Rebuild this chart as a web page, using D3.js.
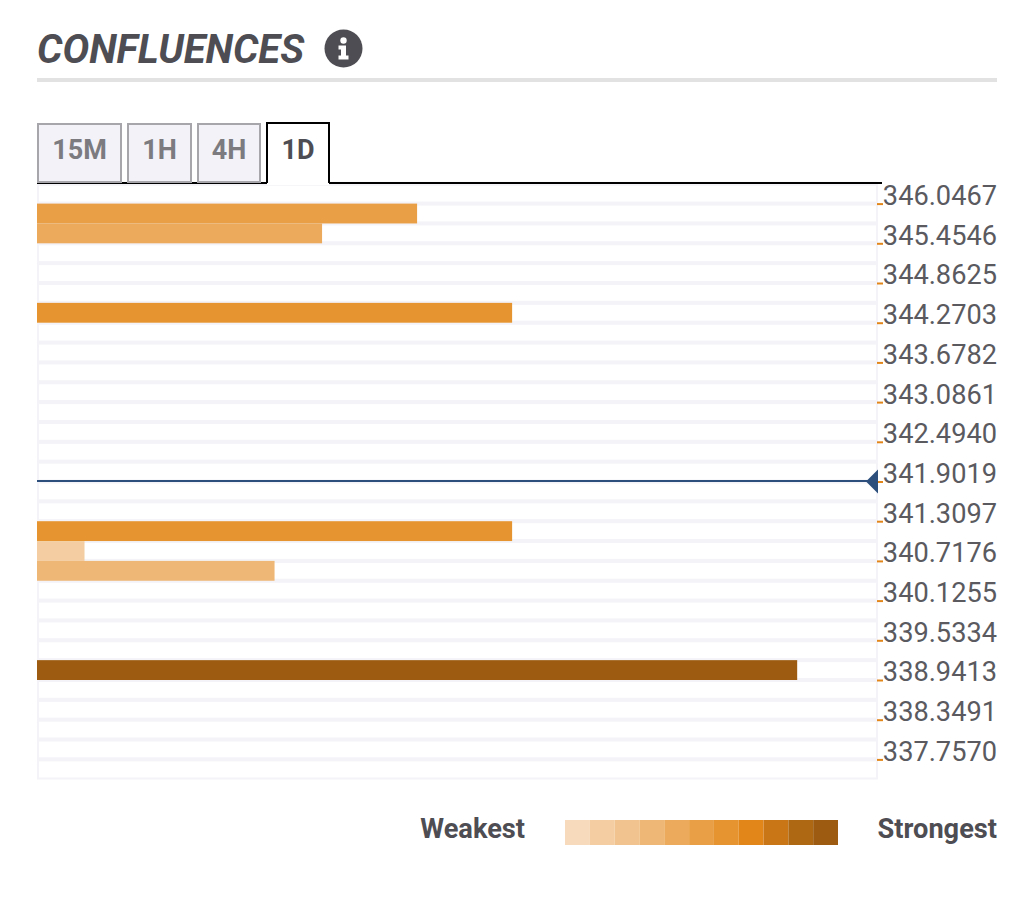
<!DOCTYPE html>
<html>
<head>
<meta charset="utf-8">
<script src="https://cdn.jsdelivr.net/npm/d3@7"></script>
<style>
html,body{margin:0;padding:0;background:#fff;}
svg{display:block;font-family:Roboto,sans-serif;}
</style>
</head>
<body>
<svg id="chart" width="1024" height="913"></svg>
<script>
// tick labels of the price axis
var priceTicks = [346.0467,345.4546,344.8625,344.2703,343.6782,343.0861,342.4940,341.9019,341.3097,340.7176,340.1255,339.5334,338.9413,338.3491,337.7570];
// price at the top edge of each confluence bar
var barLevels = [346.0467,345.7506,344.5664,341.3097,341.0136,340.7176,339.2373];
var barStrength = [8,6,10,10,1,5,16];
var barShade = [5,4,6,6,1,3,10];
var currentPrice = 341.9019;
var rowStep = 0.29605;

var legendColors = ["#f7dabb","#f4cea2","#f1c38e","#efb775","#ecaa5d","#e99f46","#e69430","#e3861a","#c87616","#ae6813","#9c5b10"];
var tabNames = ["15M","1H","4H","1D"];
var tabLeft = [37,127,197,267];
var tabRight = [122,192,261,329];

var svg = d3.select("#chart");

var y = d3.scaleLinear()
    .domain([337.7570,346.0467])
    .range([759.4,203.6]);
var x = d3.scaleLinear()
    .domain([0,17.68])
    .range([37,877]);

// title
svg.append("text")
    .attr("x",37)
    .attr("y",63)
    .attr("font-size",40)
    .attr("font-weight",700)
    .attr("font-style","italic")
    .attr("fill","#4d4d53")
    .text("CONFLUENCES");

var info = svg.append("g").attr("transform","translate(343.5,48.5)");
info.append("circle").attr("r",19).attr("fill","#4d4d53");
info.append("circle").attr("cy",-8).attr("r",3.2).attr("fill","#fff");
info.append("path")
    .attr("d","M-5,-3H2.5V7H5V11H-5V7H-2.5V1H-5Z")
    .attr("fill","#fff");

svg.append("rect")
    .attr("x",37).attr("y",78)
    .attr("width",960).attr("height",4)
    .attr("fill","#e2e2e2");

// plot background: row stripes and frame
var rowPrices = d3.range(0,30).map(function(i){ return 346.0467-(i-1)*rowStep; });
svg.selectAll(".row")
    .data(rowPrices)
    .enter().append("rect")
    .attr("class","row")
    .attr("x",37)
    .attr("y",function(d){ return y(d)-2; })
    .attr("width",840)
    .attr("height",4)
    .attr("fill","#f3f3f8");
svg.append("rect")
    .attr("x",38).attr("y",183)
    .attr("width",839).attr("height",595.5)
    .attr("fill","none")
    .attr("stroke","#f3f3f8")
    .attr("stroke-width",2);

// bars
var colorOf = d3.scaleOrdinal().domain(d3.range(0,11)).range(legendColors);
svg.selectAll(".bar")
    .data(barLevels)
    .enter().append("rect")
    .attr("class","bar")
    .attr("x",x(0))
    .attr("y",function(d){ return y(d); })
    .attr("width",function(d,i){ return x(barStrength[i])-x(0); })
    .attr("height",function(d){ return y(d-rowStep)-y(d); })
    .attr("fill",function(d,i){ return colorOf(barShade[i]); });

// price axis
var axis = d3.axisRight(y)
    .tickValues(priceTicks)
    .tickSize(6)
    .tickFormat(d3.format(".4f"));
var axisG = svg.append("g")
    .attr("transform","translate(877,0)")
    .call(axis);
axisG.select(".domain").remove();
axisG.selectAll(".tick line")
    .attr("stroke","#e3861a")
    .attr("stroke-width",2);
axisG.selectAll(".tick text")
    .attr("x",120)
    .attr("dy",1)
    .attr("text-anchor","end")
    .attr("font-family","Roboto,sans-serif")
    .attr("font-size",27.2)
    .attr("fill","#5a5a5f");

// current price marker
svg.append("line")
    .attr("x1",37).attr("x2",870)
    .attr("y1",481).attr("y2",481)
    .attr("stroke","#2c4f7c")
    .attr("stroke-width",2);
svg.append("path")
    .attr("d",d3.line()([[866,y(currentPrice)],[878,y(currentPrice)-12],[878,y(currentPrice)+12]])+"Z")
    .attr("fill","#2c4f7c");

// tabs
svg.append("line")
    .attr("x1",37).attr("x2",882)
    .attr("y1",183).attr("y2",183)
    .attr("stroke","#000")
    .attr("stroke-width",2);
tabNames.forEach(function(name,i)
{
    var active = i==3;
    var l = tabLeft[i], r = tabRight[i];
    if(active)
    {
        svg.append("rect")
            .attr("x",l).attr("y",123)
            .attr("width",r-l).attr("height",62)
            .attr("fill","#fff");
        svg.append("path")
            .attr("d","M"+l+",183V123H"+r+"V183")
            .attr("fill","none")
            .attr("stroke","#000")
            .attr("stroke-width",2);
    }
    else
    {
        svg.append("rect")
            .attr("x",l+1).attr("y",124)
            .attr("width",r-l-2).attr("height",58)
            .attr("fill","#f2f2f8")
            .attr("stroke","#a6a6ab")
            .attr("stroke-width",2);
    }
    svg.append("text")
        .attr("x",(l+r)/2)
        .attr("y",159)
        .attr("text-anchor","middle")
        .attr("font-size",27)
        .attr("font-weight",700)
        .attr("fill",active ? "#4d4d53" : "#7b7b80")
        .text(name);
});

// legend
var legendX = d3.scaleBand()
    .domain(d3.range(0,11))
    .range([565,838]);
svg.selectAll(".swatch")
    .data(legendColors)
    .enter().append("rect")
    .attr("class","swatch")
    .attr("x",function(d,i){ return legendX(i); })
    .attr("y",820)
    .attr("width",legendX.bandwidth())
    .attr("height",25)
    .attr("fill",function(d){ return d; });
svg.append("text")
    .attr("x",525).attr("y",838)
    .attr("text-anchor","end")
    .attr("font-size",27.2)
    .attr("font-weight",700)
    .attr("fill","#4d4d53")
    .text("Weakest");
svg.append("text")
    .attr("x",997).attr("y",838)
    .attr("text-anchor","end")
    .attr("font-size",27.2)
    .attr("font-weight",700)
    .attr("fill","#4d4d53")
    .text("Strongest");
</script>
</body>
</html>
